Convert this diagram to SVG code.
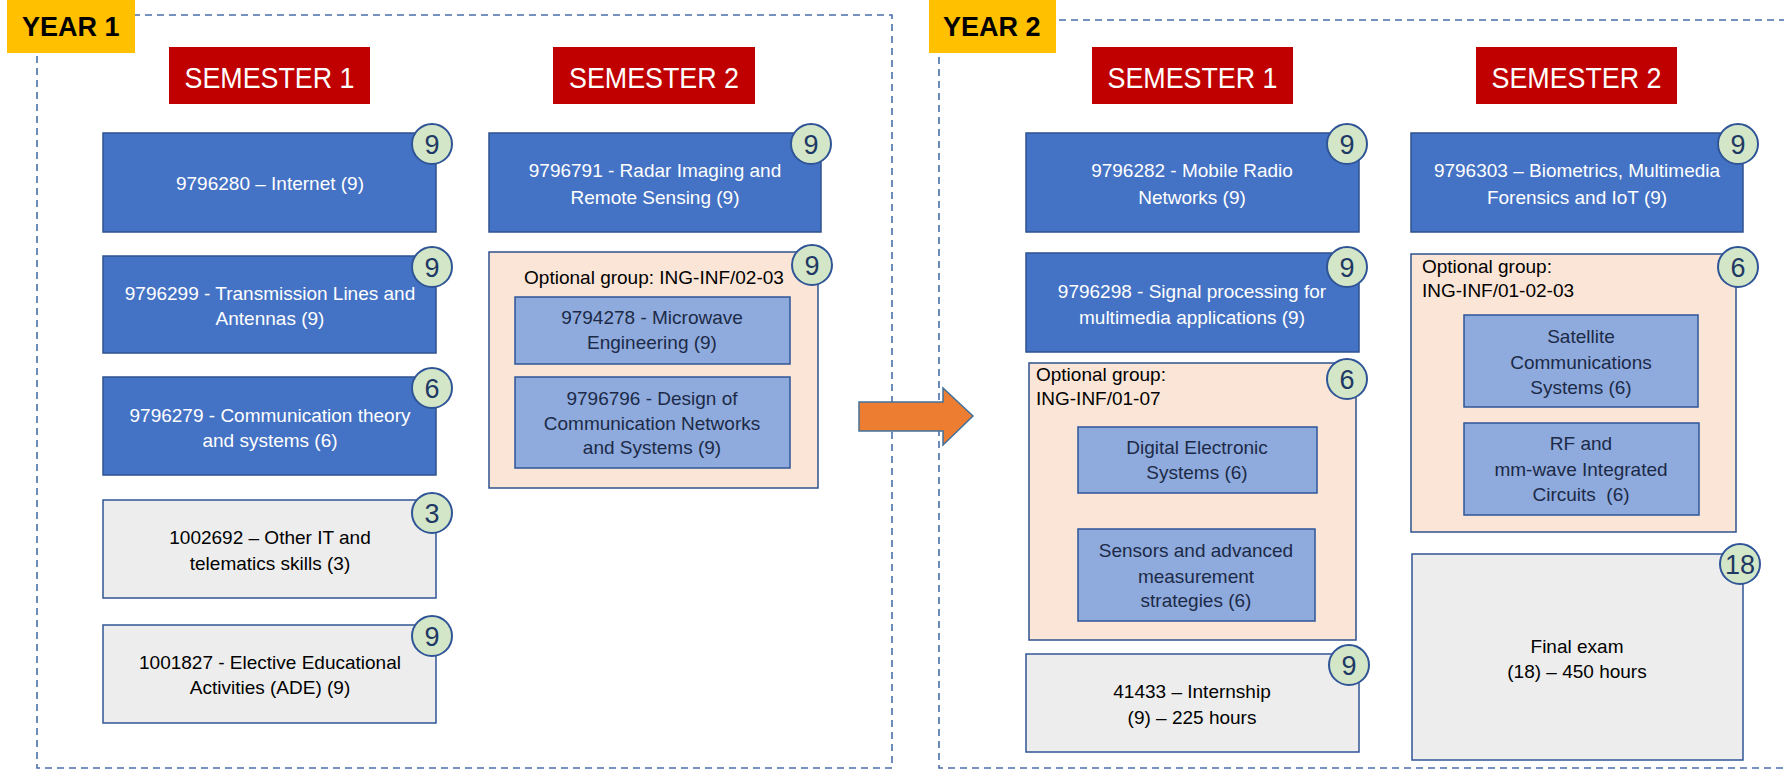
<svg xmlns="http://www.w3.org/2000/svg" width="1784" height="771" viewBox="0 0 1784 771">
<style>
text{font-family:"Liberation Sans",Arial,sans-serif}
.frame{fill:none;stroke:#4A6EAA;stroke-width:1.6;stroke-dasharray:7 5}
.year{fill:#FFC000}
.yeart{font-size:27px;font-weight:bold;fill:#000}
.sem{fill:#C00000}
.semt{font-size:30px;fill:#fff;text-anchor:middle}
.core{fill:#4472C4;stroke:#2F528F;stroke-width:1.5}
.coret{font-size:19px;fill:#fff;text-anchor:middle}
.grey{fill:#EDEDED;stroke:#2F5597;stroke-width:1.5}
.greyt{font-size:19px;fill:#000;text-anchor:middle}
.group{fill:#FBE5D6;stroke:#2F528F;stroke-width:1.5}
.groupt{font-size:19px;fill:#000}
.opt{fill:#8FAADC;stroke:#2F5597;stroke-width:1.5}
.optt{font-size:19px;fill:#1C2A48;text-anchor:middle}
.badge{fill:#D3E7C8;stroke:#2F5597;stroke-width:2}
.badget{font-size:27px;fill:#1F3864;text-anchor:middle}
.arrow{fill:#ED7D31;stroke:#41719C;stroke-width:1.5}
</style>

<g id="year1-frame">
<rect class="frame" x="37" y="15" width="855" height="753"/>
<rect class="year" x="7" y="0" width="128" height="53"/>
<text class="yeart" x="22" y="36">YEAR 1</text>
</g>
<g id="year2-frame">
<rect class="frame" x="939" y="20" width="900" height="748"/>
<rect class="year" x="929" y="0" width="127" height="53"/>
<text class="yeart" x="943" y="36">YEAR 2</text>
</g>

<g id="y1-sem1">
<rect class="sem" x="169" y="47" width="201" height="57"/>
<text class="semt" x="269.5" y="88" textLength="170" lengthAdjust="spacingAndGlyphs">SEMESTER 1</text>
</g>
<g id="y1-sem2">
<rect class="sem" x="553" y="47" width="202" height="57"/>
<text class="semt" x="654" y="88" textLength="170" lengthAdjust="spacingAndGlyphs">SEMESTER 2</text>
</g>
<g id="y2-sem1">
<rect class="sem" x="1092" y="47" width="201" height="57"/>
<text class="semt" x="1192.5" y="88" textLength="170" lengthAdjust="spacingAndGlyphs">SEMESTER 1</text>
</g>
<g id="y2-sem2">
<rect class="sem" x="1476" y="47" width="201" height="57"/>
<text class="semt" x="1576.5" y="88" textLength="170" lengthAdjust="spacingAndGlyphs">SEMESTER 2</text>
</g>

<!-- Year 1, Semester 1 -->
<g id="n9796280">
<rect class="core" x="103" y="133" width="333" height="99"/>
<text class="coret" x="270" y="190">9796280 – Internet (9)</text>
<circle class="badge" cx="432" cy="144" r="20"/>
<text class="badget" x="432" y="153.5">9</text>
</g>
<g id="n9796299">
<rect class="core" x="103" y="256" width="333" height="97"/>
<text class="coret" x="270" y="300">9796299 - Transmission Lines and</text>
<text class="coret" x="270" y="325">Antennas (9)</text>
<circle class="badge" cx="432" cy="267" r="20"/>
<text class="badget" x="432" y="276.5">9</text>
</g>
<g id="n9796279">
<rect class="core" x="103" y="377" width="333" height="98"/>
<text class="coret" x="270" y="422">9796279 - Communication theory</text>
<text class="coret" x="270" y="447">and systems (6)</text>
<circle class="badge" cx="432" cy="388" r="20"/>
<text class="badget" x="432" y="397.5">6</text>
</g>
<g id="n1002692">
<rect class="grey" x="103" y="500" width="333" height="98"/>
<text class="greyt" x="270" y="544">1002692 – Other IT and</text>
<text class="greyt" x="270" y="570">telematics skills (3)</text>
<circle class="badge" cx="432" cy="513" r="20"/>
<text class="badget" x="432" y="522.5">3</text>
</g>
<g id="n1001827">
<rect class="grey" x="103" y="625" width="333" height="98"/>
<text class="greyt" x="270" y="669">1001827 - Elective Educational</text>
<text class="greyt" x="270" y="694">Activities (ADE) (9)</text>
<circle class="badge" cx="432" cy="636" r="20"/>
<text class="badget" x="432" y="645.5">9</text>
</g>

<!-- Year 1, Semester 2 -->
<g id="n9796791">
<rect class="core" x="489" y="133" width="332" height="99"/>
<text class="coret" x="655" y="177">9796791 - Radar Imaging and</text>
<text class="coret" x="655" y="204">Remote Sensing (9)</text>
<circle class="badge" cx="811" cy="144" r="20"/>
<text class="badget" x="811" y="153.5">9</text>
</g>
<g id="group-y1s2">
<rect class="group" x="489" y="252" width="329" height="236"/>
<text class="groupt" x="654" y="284" text-anchor="middle">Optional group: ING-INF/02-03</text>
<circle class="badge" cx="812" cy="265" r="20"/>
<text class="badget" x="812" y="274.5">9</text>
</g>
<g id="n9794278">
<rect class="opt" x="515" y="297" width="275" height="67"/>
<text class="optt" x="652" y="324">9794278 - Microwave</text>
<text class="optt" x="652" y="349">Engineering (9)</text>
</g>
<g id="n9796796">
<rect class="opt" x="515" y="377" width="275" height="91"/>
<text class="optt" x="652" y="405">9796796 - Design of</text>
<text class="optt" x="652" y="430">Communication Networks</text>
<text class="optt" x="652" y="454">and Systems (9)</text>
</g>

<!-- Year 2, Semester 1 -->
<g id="n9796282">
<rect class="core" x="1026" y="133" width="333" height="99"/>
<text class="coret" x="1192" y="177">9796282 - Mobile Radio</text>
<text class="coret" x="1192" y="204">Networks (9)</text>
<circle class="badge" cx="1347" cy="144" r="20"/>
<text class="badget" x="1347" y="153.5">9</text>
</g>
<g id="n9796298">
<rect class="core" x="1026" y="253" width="333" height="99"/>
<text class="coret" x="1192" y="298">9796298 - Signal processing for</text>
<text class="coret" x="1192" y="324">multimedia applications (9)</text>
<circle class="badge" cx="1347" cy="267" r="20"/>
<text class="badget" x="1347" y="276.5">9</text>
</g>
<g id="group-y2s1">
<rect class="group" x="1029" y="363" width="327" height="277"/>
<text class="groupt" x="1036" y="381">Optional group:</text>
<text class="groupt" x="1036" y="405">ING-INF/01-07</text>
<circle class="badge" cx="1347" cy="379" r="20"/>
<text class="badget" x="1347" y="388.5">6</text>
</g>
<g id="n-digital">
<rect class="opt" x="1078" y="427" width="239" height="66"/>
<text class="optt" x="1197" y="454">Digital Electronic</text>
<text class="optt" x="1197" y="479">Systems (6)</text>
</g>
<g id="n-sensors">
<rect class="opt" x="1078" y="529" width="237" height="92"/>
<text class="optt" x="1196" y="557">Sensors and advanced</text>
<text class="optt" x="1196" y="583">measurement</text>
<text class="optt" x="1196" y="607">strategies (6)</text>
</g>
<g id="n41433">
<rect class="grey" x="1026" y="654" width="333" height="98"/>
<text class="greyt" x="1192" y="698">41433 – Internship</text>
<text class="greyt" x="1192" y="724">(9) – 225 hours</text>
<circle class="badge" cx="1349" cy="665" r="20"/>
<text class="badget" x="1349" y="674.5">9</text>
</g>

<!-- Year 2, Semester 2 -->
<g id="n9796303">
<rect class="core" x="1411" y="133" width="332" height="99"/>
<text class="coret" x="1577" y="177">9796303 – Biometrics, Multimedia</text>
<text class="coret" x="1577" y="204">Forensics and IoT (9)</text>
<circle class="badge" cx="1738" cy="144" r="20"/>
<text class="badget" x="1738" y="153.5">9</text>
</g>
<g id="group-y2s2">
<rect class="group" x="1411" y="254" width="325" height="278"/>
<text class="groupt" x="1422" y="273">Optional group:</text>
<text class="groupt" x="1422" y="297">ING-INF/01-02-03</text>
<circle class="badge" cx="1738" cy="267" r="20"/>
<text class="badget" x="1738" y="276.5">6</text>
</g>
<g id="n-satellite">
<rect class="opt" x="1464" y="315" width="234" height="92"/>
<text class="optt" x="1581" y="343">Satellite</text>
<text class="optt" x="1581" y="369">Communications</text>
<text class="optt" x="1581" y="394">Systems (6)</text>
</g>
<g id="n-rf">
<rect class="opt" x="1464" y="423" width="235" height="92"/>
<text class="optt" x="1581" y="450">RF and</text>
<text class="optt" x="1581" y="476">mm-wave Integrated</text>
<text class="optt" x="1581" y="501">Circuits&#160; (6)</text>
</g>
<g id="n-final">
<rect class="grey" x="1412" y="554" width="331" height="206"/>
<text class="greyt" x="1577" y="653">Final exam</text>
<text class="greyt" x="1577" y="678">(18) – 450 hours</text>
<circle class="badge" cx="1740" cy="564" r="20"/>
<text class="badget" x="1740" y="573.5">18</text>
</g>

<g id="connectors">
<polygon class="arrow" points="859,402 943,402 943,388 973,416 943,445 943,431 859,431"/>
</g>
</svg>
